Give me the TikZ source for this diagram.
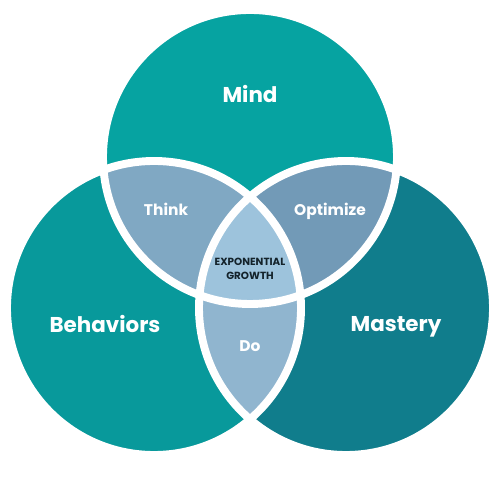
\documentclass[tikz,border=0pt]{standalone}
\usepackage{fontspec}
\setmainfont{Poppins}
\definecolor{mindteal}{HTML}{06A3A1}
\definecolor{behavteal}{HTML}{08999B}
\definecolor{masterteal}{HTML}{107D8C}
\definecolor{thinkblue}{HTML}{80A8C3}
\definecolor{optblue}{HTML}{729AB7}
\definecolor{doblue}{HTML}{90B5CF}
\definecolor{growblue}{HTML}{9DC3DC}
\definecolor{growtext}{HTML}{14232B}

\begin{document}
\begin{tikzpicture}[
    ring/.style={white, line width=4.5pt},
    biglabel/.style={white, text depth=0.3ex, font=\bfseries\fontsize{12.2}{14}\selectfont},
    midlabel/.style={white, text depth=0.3ex, font=\bfseries\fontsize{8.8}{10}\selectfont},
    corelabel/.style={growtext, align=center, font=\bfseries\fontsize{5.9}{8.2}\selectfont}
]
    \useasboundingbox (0,0) rectangle (10,10);
    \def\rad{2.94}
    \coordinate (mind) at (5,6.86);
    \coordinate (behav) at (3.08,3.84);
    \coordinate (mast) at (6.92,3.84);

    % the three circles
    \fill[mindteal] (mind) circle (\rad);
    \fill[behavteal] (behav) circle (\rad);
    \fill[masterteal] (mast) circle (\rad);

    % overlaps
    \begin{scope}
        \clip (mind) circle (\rad);
        \fill[thinkblue] (behav) circle (\rad);
        \fill[optblue] (mast) circle (\rad);
    \end{scope}
    \begin{scope}
        \clip (behav) circle (\rad);
        \fill[doblue] (mast) circle (\rad);
    \end{scope}
    \begin{scope}
        \clip (mind) circle (\rad);
        \clip (behav) circle (\rad);
        \fill[growblue] (mast) circle (\rad);
    \end{scope}

    % white outlines
    \foreach \c in {mind,behav,mast}
        \draw[ring] (\c) circle (\rad);

    \node[biglabel] (mindtxt) at (5,8.1) {Mind};
    \node[biglabel] (behavtxt) at (2.1,3.5) {Behaviors};
    \node[biglabel] (masttxt) at (7.92,3.5) {Mastery};
    \node[midlabel] (thinktxt) at (3.32,5.78) {Think};
    \node[midlabel] (opttxt) at (6.6,5.78) {Optimize};
    \node[midlabel] (dotxt) at (5,3.04) {Do};
    \node[corelabel] (growtxt) at (5,4.62) {EXPONENTIAL\\GROWTH};
\end{tikzpicture}
\end{document}
